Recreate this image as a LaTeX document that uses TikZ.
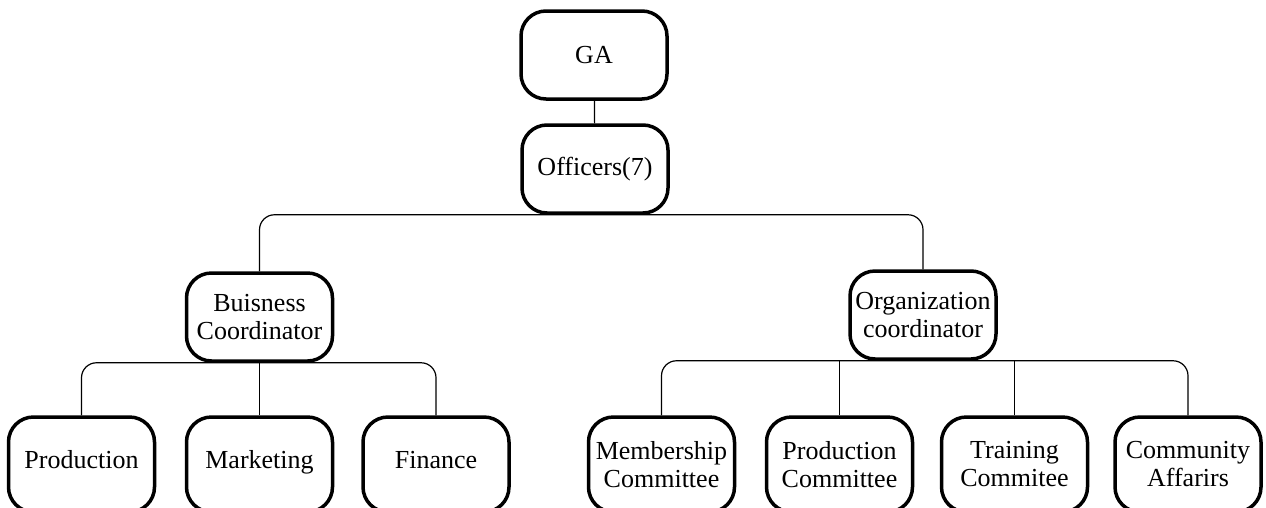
\documentclass[tikz,border=0pt]{standalone}
\usepackage{fontspec}
\setmainfont{Liberation Serif}

\begin{document}
\begin{tikzpicture}[x=1pt, y=-1pt,
    unit/.style={draw, line width=3.5pt, rounded corners=25pt, minimum width=146pt, minimum height=88pt, inner sep=0pt, align=center, font=\fontsize{26}{28}\selectfont},
    leaf/.style={unit, minimum height=95pt},
    word/.style={leaf, text height=1.1em, text depth=0.25em},
    link/.style={line width=1.2pt, rounded corners=15pt}]
    \useasboundingbox (0,0) rectangle (1266,507);
    \node[unit] (ga) at (594,55) {GA};
    \node[unit] (off) at (595,169) {Officers(7)};
    \node[unit] (buis) at (259.5,317) {Buisness\\Coordinator};
    \node[unit] (org) at (923,315) {Organization\\coordinator};
    \node[word] (prod) at (81.5,464.5) {Production};
    \node[word] (mkt) at (259.5,464.5) {Marketing};
    \node[word] (fin) at (436,464.5) {Finance};
    \node[leaf] (memb) at (661.5,464.5) {Membership\\Committee};
    \node[leaf] (pcom) at (839.5,464.5) {Production\\Committee};
    \node[leaf] (train) at (1014.5,464.5) {Training\\Commitee};
    \node[leaf] (comm) at (1188,464.5) {Community\\Affarirs};
    \draw[link] (ga) -- (off);
    \draw[link] (buis.north) |- (off.south) -| (org.north);
    \draw[link] (prod.north) |- (buis.south) -| (fin.north);
    \draw[link] (mkt) -- (buis);
    \draw[link] (memb.north) |- (org.south) -| (comm.north);
    \draw[link] (pcom.north) -- (pcom.north |- org.south);
    \draw[link] (train.north) -- (train.north |- org.south);
\end{tikzpicture}
\end{document}
